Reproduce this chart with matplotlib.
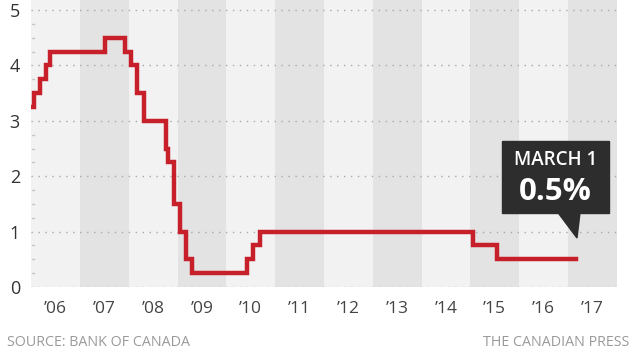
import datetime as dt
import matplotlib
matplotlib.use('Agg')
import matplotlib.pyplot as plt
from matplotlib.patches import Polygon, FancyBboxPatch

plt.rcParams['font.family'] = ['Open Sans', 'DejaVu Sans']

# Bank of Canada overnight rate: date of change, new rate (%)
change_dates = ['2005-12-06', '2006-01-24', '2006-03-07', '2006-04-25', '2006-05-24',
                '2007-07-10', '2007-12-04', '2008-01-22', '2008-03-04', '2008-04-22',
                '2008-10-08', '2008-10-21', '2008-12-09', '2009-01-20', '2009-03-03',
                '2009-04-21', '2010-06-01', '2010-07-20', '2010-09-08', '2015-01-21',
                '2015-07-15', '2017-03-01']
rates = [3.25, 3.50, 3.75, 4.00, 4.25,
         4.50, 4.25, 4.00, 3.50, 3.00,
         2.50, 2.25, 1.50, 1.00, 0.50,
         0.25, 0.50, 0.75, 1.00, 0.75,
         0.50, 0.50]
years = list(range(2006, 2018))
year_labels = ['\u2019' + str(y)[2:] for y in years]
y_ticks = [0, 1, 2, 3, 4, 5]

dates = [dt.datetime.strptime(d, '%Y-%m-%d') for d in change_dates]
x = [max(d, dt.datetime(2006, 1, 1)) for d in dates]

fig = plt.figure(figsize=(6.35, 3.57), dpi=100)
ax = fig.add_axes([0.0488, 0.196, 0.9229, 0.804])

# alternating year bands
for i, y in enumerate(years):
    ax.axvspan(dt.datetime(y, 1, 1), dt.datetime(y + 1, 1, 1),
               color='#f2f2f2' if i % 2 == 0 else '#e3e3e3', lw=0, zorder=0)

# dotted grid lines
for yv in y_ticks:
    ax.axhline(yv, color='#a8a8a8', lw=1.0, linestyle=(0, (1, 4)), zorder=1)

# small minor marks on the left
for yv in [0.25 * k for k in range(1, 20) if k % 4 != 0]:
    ax.plot([dt.datetime(2006, 1, 10), dt.datetime(2006, 1, 22)], [yv, yv],
            color='#c8c8c8', lw=1, zorder=1)

ax.step(x, rates, where='post', color='#c8202a', lw=3.2, zorder=3,
        solid_joinstyle='miter')

ax.set_xlim(dt.datetime(2006, 1, 1), dt.datetime(2018, 1, 1))
ax.set_ylim(0, 5.18)

ax.set_yticks(y_ticks)
ax.set_yticklabels([str(v) for v in y_ticks], fontsize=13, color='#333333')
ax.set_xticks([dt.datetime(y, 7, 1) for y in years])
ax.set_xticklabels(year_labels, fontsize=12.5, color='#444444')
ax.tick_params(axis='both', length=0)
ax.tick_params(axis='y', pad=8)
ax.tick_params(axis='x', pad=10)
for s in ax.spines.values():
    s.set_visible(False)

# callout box
box_l, box_b, box_w, box_h = 502 / 635, 1 - 213 / 357, 107 / 635, 72 / 357
fig.patches.append(FancyBboxPatch((box_l, box_b), box_w, box_h, boxstyle='square,pad=0',
                                  transform=fig.transFigure, color='#2d2d2d', zorder=5))
fig.patches.append(Polygon([(558 / 635, box_b + 0.001), (580 / 635, box_b + 0.001),
                            (577 / 635, 1 - 238 / 357)], closed=True,
                           transform=fig.transFigure, color='#2d2d2d', zorder=5))
fig.text(box_l + box_w / 2, 1 - 160 / 357, 'MARCH 1', color='white', fontsize=13.5,
         fontweight='semibold', ha='center', va='center', zorder=6)
fig.text(box_l + box_w / 2, 1 - 192 / 357, '0.5%', color='white', fontsize=22.5,
         fontweight='bold', ha='center', va='center', zorder=6)

fig.text(7 / 635, 1 - 342 / 357, 'SOURCE: BANK OF CANADA', fontsize=10.3,
         color='#9a9a9a', ha='left', va='center')
fig.text(629 / 635, 1 - 342 / 357, 'THE CANADIAN PRESS', fontsize=10.3,
         color='#9a9a9a', ha='right', va='center')

fig.savefig('out.png', dpi=100, facecolor='white')
